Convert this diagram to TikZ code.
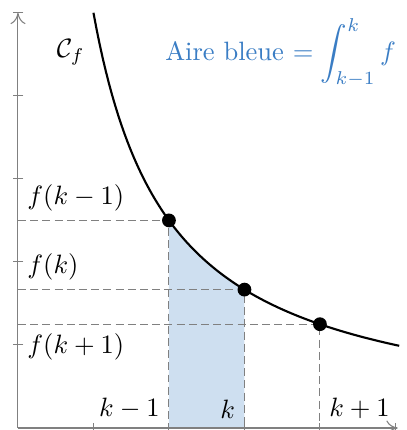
\documentclass[tikz,border=0pt]{standalone}
\usetikzlibrary{positioning,arrows.meta}
\definecolor{bleuaire}{RGB}{58,125,196}

\begin{document}
\begin{tikzpicture}[
        x=1cm, y=1.1cm,
        axe/.style={gray, -{To[length=1.5mm,width=2mm]}},
        graduation/.style={gray},
        repere/.style={gray, dash pattern=on 3pt off 1.6pt},
        point/.style={circle, fill=black, inner sep=0pt, minimum size=5.2pt},
        courbe/.style={thick, black},
        aire/.style={fill=bleuaire!25}
    ]
        \useasboundingbox (-0.238,-0.024) rectangle (5.152,5.154);

        % Blue area under the curve between k-1 and k
        \fill[aire] (2,0) -- plot[domain=2:3, samples=40] (\x,{5/\x}) -- (3,0) -- cycle;

        % Axes
        \coordinate (O) at (0,0);
        \coordinate (xmax) at (5.03,0);
        \coordinate (ymax) at (0,5);
        \draw[axe] (O) -- (xmax);
        \draw[axe] (O) -- (ymax);
        \foreach \i in {1,...,5} {
            \draw[graduation] (\i,0.06) -- (\i,-0.06);
            \draw[graduation] (0.07,\i) -- (-0.07,\i);
        }

        % Points of the curve
        \coordinate (yA) at (0,2.5);
        \coordinate (yB) at (0,5/3);
        \coordinate (yC) at (0,1.25);
        \coordinate (xA) at (2,0);
        \coordinate (xB) at (3,0);
        \coordinate (xC) at (4,0);
        \coordinate (A) at (2,2.5);
        \coordinate (B) at (3,5/3);
        \coordinate (C) at (4,1.25);

        % Dashed guide lines
        \draw[repere] (yA) -- (A) -- (xA);
        \draw[repere] (yB) -- (B) -- (xB);
        \draw[repere] (yC) -- (C) -- (xC);

        % Curve
        \draw[courbe] plot[domain=1:5.05, samples=100] (\x,{5/\x});

        \node[point] (pA) at (A) {};
        \node[point] (pB) at (B) {};
        \node[point] (pC) at (C) {};

        % Labels
        \node[above right=0pt of yA] (lA) {$f(k-1)$};
        \node[above right=0pt of yB] (lB) {$f(k)$};
        \node[below right=0pt of yC] (lC) {$f(k+1)$};
        \node[above left=0pt of xA] (kA) {$k-1$};
        \node[above left=0pt of xB] (kB) {$k$};
        \node[above right=0pt of xC] (kC) {$k+1$};
        \node (cf) at (0.7,4.53) {$\mathcal{C}_f$};
        \node[text=bleuaire] (legende) at (3.48,4.52) {Aire bleue $= \displaystyle\int_{k-1}^{k} f$};

    \end{tikzpicture}
\end{document}
